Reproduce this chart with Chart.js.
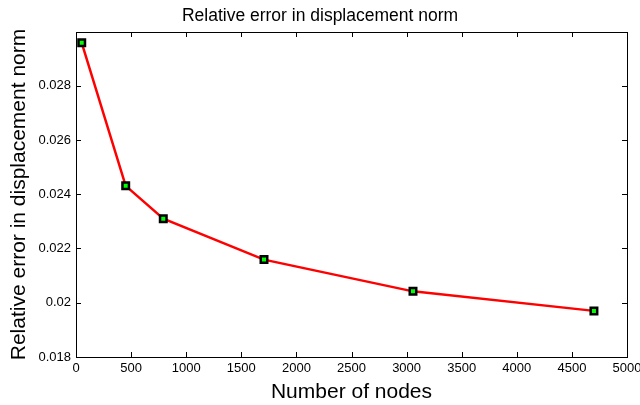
<!DOCTYPE html>
<html>
<head>
<meta charset="utf-8">
<script src="https://cdn.jsdelivr.net/npm/chart.js@4"></script>
<style>
  html, body { margin: 0; padding: 0; background: #fff; }
  #wrap { width: 640px; height: 405px; }
</style>
</head>
<body>
<div id="wrap"><canvas id="errChart"></canvas></div>
<script>
const nodes = [52, 451, 792, 1706, 3058, 4700];
const relError = [0.02958, 0.02431, 0.02310, 0.02159, 0.02042, 0.01970];
const xTicks = [0, 500, 1000, 1500, 2000, 2500, 3000, 3500, 4000, 4500, 5000];
const yTicks = [0.018, 0.020, 0.022, 0.024, 0.026, 0.028];

const fontFamily = '"Liberation Sans", Arial, Helvetica, sans-serif';

// box round the plot and MATLAB-style inward ticks on all four sides
const boxTicks = {
    id: 'boxTicks',
    afterDatasetsDraw(chart) {
        const c = chart.ctx;
        const a = chart.chartArea;
        const xs = chart.scales.x, ys = chart.scales.y;
        const len = 5;
        c.save();
        c.strokeStyle = '#000';
        c.lineWidth = 1;
        c.beginPath();
        xTicks.forEach(function(v) {
            const px = Math.round(xs.getPixelForValue(v)) + 0.5;
            c.moveTo(px, a.bottom); c.lineTo(px, a.bottom - len);
            c.moveTo(px, a.top); c.lineTo(px, a.top + len);
        });
        yTicks.forEach(function(v) {
            const py = Math.round(ys.getPixelForValue(v)) + 0.5;
            c.moveTo(a.left, py); c.lineTo(a.left + len, py);
            c.moveTo(a.right, py); c.lineTo(a.right - len, py);
        });
        c.stroke();
        c.strokeRect(Math.round(a.left) + 0.5, Math.round(a.top) + 0.5,
                     Math.round(a.right - a.left), Math.round(a.bottom - a.top));
        c.restore();
    }
};

const ctx = document.getElementById('errChart').getContext('2d');
new Chart(ctx, {
    type: 'line',
    data: {
        datasets: [{
            data: nodes.map(function(n, i) { return { x: n, y: relError[i] }; }),
            borderColor: '#ff0000',
            borderWidth: 2.5,
            pointStyle: 'rect',
            pointRadius: 4.6,
            pointHoverRadius: 4.6,
            pointBackgroundColor: '#00ff00',
            pointBorderColor: '#000',
            pointBorderWidth: 2.5,
            tension: 0,
            clip: false
        }]
    },
    options: {
        responsive: true,
        maintainAspectRatio: false,
        animation: false,
        layout: { padding: 0 },
        plugins: {
            legend: { display: false },
            tooltip: { enabled: false },
            title: {
                display: true,
                text: 'Relative error in displacement norm',
                color: '#000',
                font: { family: fontFamily, size: 17.5, weight: 'normal' },
                padding: { top: 5.5, bottom: 5.5 }
            }
        },
        scales: {
            x: {
                type: 'linear',
                min: 0,
                max: 5000,
                afterBuildTicks: function(s) { s.ticks = xTicks.map(function(v) { return { value: v }; }); },
                afterFit: function(s) { s.height = 48; s.paddingLeft = 0; s.paddingRight = 0; },
                grid: { display: false, drawTicks: false },
                border: { display: false },
                ticks: {
                    color: '#000',
                    padding: 4,
                    maxRotation: 0,
                    font: { family: fontFamily, size: 13 },
                    callback: function(v) { return String(v); }
                },
                title: {
                    display: true,
                    text: 'Number of nodes',
                    color: '#000',
                    padding: { top: 2.5, bottom: 0 },
                    font: { family: fontFamily, size: 21 }
                }
            },
            y: {
                type: 'linear',
                min: 0.018,
                max: 0.02998,
                afterBuildTicks: function(s) { s.ticks = yTicks.map(function(v) { return { value: v }; }); },
                afterFit: function(s) { s.width = 76; s.paddingTop = 0; s.paddingBottom = 0; },
                grid: { display: false, drawTicks: false },
                border: { display: false },
                ticks: {
                    color: '#000',
                    padding: 5,
                    font: { family: fontFamily, size: 13 },
                    callback: function(v) { return String(Number(v.toFixed(3))); }
                },
                title: {
                    display: true,
                    text: 'Relative error in displacement norm',
                    color: '#000',
                    padding: { top: 7, bottom: 0 },
                    font: { family: fontFamily, size: 21 }
                }
            },
            // empty strip on the right so the plot ends at x=627
            yRight: {
                type: 'linear',
                position: 'right',
                afterFit: function(s) { s.width = 13; s.paddingTop = 0; s.paddingBottom = 0; },
                grid: { display: false, drawTicks: false },
                border: { display: false },
                ticks: { display: false }
            }
        }
    },
    plugins: [boxTicks]
});
</script>
</body>
</html>
